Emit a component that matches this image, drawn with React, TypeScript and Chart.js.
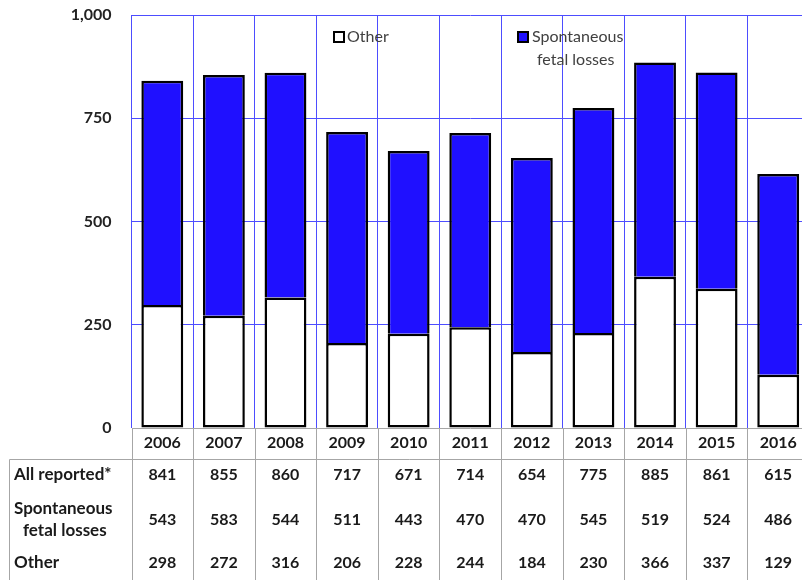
import React, { useEffect, useRef } from "react";
import { Chart, registerables } from "chart.js";

Chart.register(...registerables);

const years = ["2006", "2007", "2008", "2009", "2010", "2011", "2012", "2013", "2014", "2015", "2016"];
const allReported = [841, 855, 860, 717, 671, 714, 654, 775, 885, 861, 615];
const spontaneous = [543, 583, 544, 511, 443, 470, 470, 545, 519, 524, 486];
const other = [298, 272, 316, 206, 228, 244, 184, 230, 366, 337, 129];
const yTickValues = [0, 250, 500, 750, 1000];
const seriesLabels = ["Other", "Spontaneous fetal losses"];
const tableRowLabels = [["All reported*"], ["Spontaneous", "fetal losses"], ["Other"]];

const FONT = "Lato, 'Open Sans', sans-serif";
const BLUE = "#1f10ff";
const GRID_BLUE = "#4d4dff";
const TABLE_GREY = "#a6a6a6";

const tablePlugin = {
  id: "tablePlugin",
  afterDraw(chart: any) {
    const ctx = chart.ctx;
    const x = chart.scales.x;
    const area = chart.chartArea;
    const W = chart.width;
    const H = chart.height;
    const colW = x.getPixelForValue(1) - x.getPixelForValue(0);
    ctx.save();

    // table grid
    ctx.strokeStyle = TABLE_GREY;
    ctx.lineWidth = 1;
    ctx.beginPath();
    for (let i = 0; i <= years.length; i++) {
      const bx = Math.round(x.getPixelForValue(0) - colW / 2 + i * colW) + 0.5;
      ctx.moveTo(bx, area.bottom);
      ctx.lineTo(bx, H);
    }
    ctx.moveTo(9.5, 459.5);
    ctx.lineTo(W, 459.5);
    ctx.moveTo(9.5, 459.5);
    ctx.lineTo(9.5, H);
    ctx.stroke();

    // year labels
    ctx.fillStyle = "#1a1a1a";
    ctx.font = `bold 16px ${FONT}`;
    ctx.textAlign = "center";
    ctx.textBaseline = "middle";
    years.forEach((y, i) => {
      ctx.fillText(y, x.getPixelForValue(i), 443);
    });

    // rows
    const rows = [allReported, spontaneous, other];
    const rowY = [475, 520, 563];
    rows.forEach((vals, r) => {
      vals.forEach((v, i) => {
        ctx.fillText(String(v), x.getPixelForValue(i), rowY[r]);
      });
    });

    ctx.textAlign = "left";
    ctx.font = `bold 17px ${FONT}`;
    ctx.fillText(tableRowLabels[0][0], 14, 475);
    ctx.fillText(tableRowLabels[1][0], 14, 509);
    ctx.fillText(tableRowLabels[1][1], 23, 531);
    ctx.fillText(tableRowLabels[2][0], 14, 563);

    // legend
    ctx.font = `16px ${FONT}`;
    ctx.lineWidth = 2;
    ctx.strokeStyle = "#000";
    ctx.fillStyle = "#ffffff";
    ctx.fillRect(334, 32, 10, 10);
    ctx.strokeRect(334, 32, 10, 10);
    ctx.fillStyle = BLUE;
    ctx.fillRect(518, 32, 10, 10);
    ctx.strokeRect(518, 32, 10, 10);
    ctx.fillStyle = "#404040";
    ctx.fillText(seriesLabels[0], 347, 37);
    const parts = seriesLabels[1].split(" ");
    ctx.fillText(parts[0], 532, 37);
    ctx.fillText(parts.slice(1).join(" "), 537, 60);

    ctx.restore();
  },
};

export default function App() {
  const ref = useRef<HTMLCanvasElement | null>(null);
  useEffect(() => {
    if (!ref.current) return;
    const chart = new Chart(ref.current, {
      type: "bar",
      data: {
        labels: years,
        datasets: [
          {
            label: seriesLabels[0],
            data: other,
            backgroundColor: "#ffffff",
            borderColor: "#000000",
            borderWidth: 2.5,
            borderSkipped: false,
            barPercentage: 0.68,
            categoryPercentage: 1,
          },
          {
            label: seriesLabels[1],
            data: spontaneous,
            backgroundColor: BLUE,
            borderColor: "#000000",
            borderWidth: 2.5,
            borderSkipped: "bottom",
            barPercentage: 0.68,
            categoryPercentage: 1,
          },
        ],
      },
      options: {
        responsive: false,
        animation: false,
        devicePixelRatio: 1,
        layout: { padding: { top: 15, bottom: 152, left: 0, right: 1 } },
        plugins: { legend: { display: false }, tooltip: { enabled: false } },
        scales: {
          x: {
            stacked: true,
            offset: true,
            grid: { offset: true, color: GRID_BLUE, drawTicks: false, lineWidth: 1 },
            ticks: { display: false },
            border: { display: false },
          },
          y: {
            stacked: true,
            min: 0,
            max: 1000,
            afterFit: (s: any) => {
              s.width = 131.5;
              s.paddingTop = 0;
              s.paddingBottom = 0;
            },
            afterBuildTicks: (s: any) => {
              s.ticks = yTickValues.map((v) => ({ value: v }));
            },
            ticks: {
              padding: 20,
              color: "#222222",
              font: { family: FONT, size: 16, weight: "bold" },
              callback: (v: any) => Number(v).toLocaleString("en-US"),
            },
            grid: {
              drawTicks: false,
              color: (c: any) => (c.tick && c.tick.value === 0 ? TABLE_GREY : GRID_BLUE),
              lineWidth: 1,
            },
            border: { display: false },
          },
        },
      },
      plugins: [tablePlugin],
    });
    return () => chart.destroy();
  }, []);

  return (
    <div style={{ position: "fixed", left: 0, top: 0, width: 802, height: 580, overflow: "hidden", background: "#fff" }}>
      <canvas ref={ref} width={810} height={580} style={{ display: "block" }} />
    </div>
  );
}
